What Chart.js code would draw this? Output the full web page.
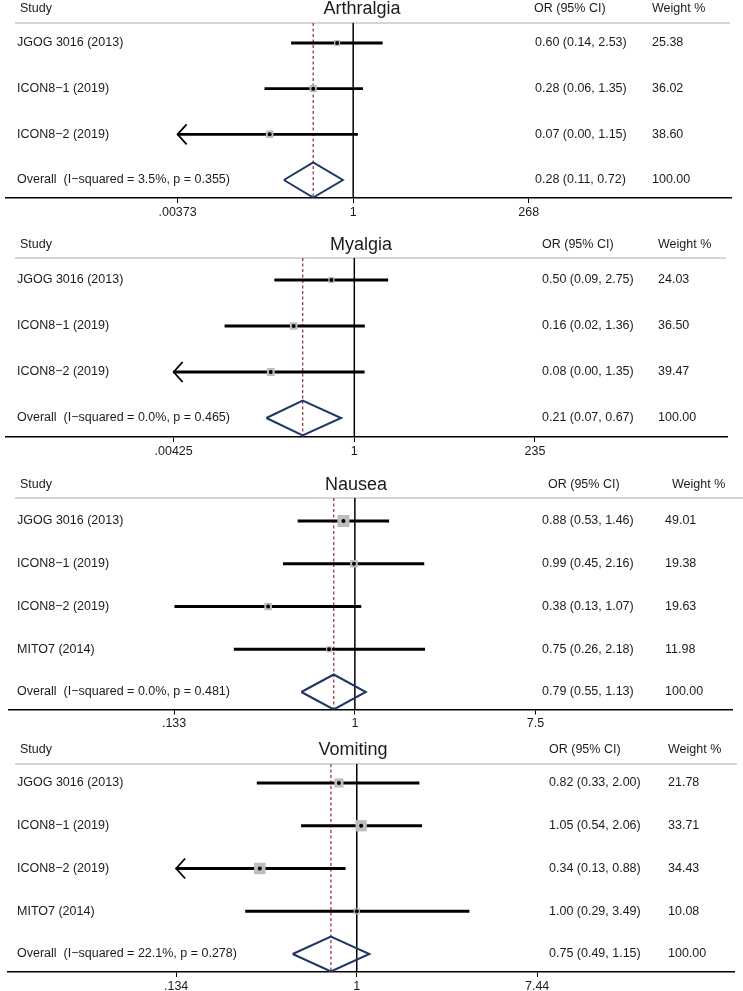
<!DOCTYPE html>
<html>
<head>
<meta charset="utf-8">
<script src="https://cdn.jsdelivr.net/npm/chart.js@4.4.1/dist/chart.umd.min.js"></script>
<style>
  html, body { margin: 0; padding: 0; background: #fff; }
  #wrap { position: relative; width: 743px; height: 991px; overflow: hidden; }
  #wrap canvas { position: absolute; left: 0; }
</style>
</head>
<body>
<div id="wrap"></div>
<script>
// ---- data ----
const studiesA = ['JGOG 3016 (2013)', 'ICON8\u22121 (2019)', 'ICON8\u22122 (2019)'];
const orA = [0.60, 0.28, 0.07];
const loA = [0.14, 0.06, 0.00];
const hiA = [2.53, 1.35, 1.15];
const wtA = [25.38, 36.02, 38.60];
const overallA = [0.28, 0.11, 0.72];
const hetA = 'Overall  (I\u2212squared = 3.5%, p = 0.355)';
const ticksA = [0.00373, 1, 268];
const tickTextA = ['.00373', '1', '268'];

const studiesM = ['JGOG 3016 (2013)', 'ICON8\u22121 (2019)', 'ICON8\u22122 (2019)'];
const orM = [0.50, 0.16, 0.08];
const loM = [0.09, 0.02, 0.00];
const hiM = [2.75, 1.36, 1.35];
const wtM = [24.03, 36.50, 39.47];
const overallM = [0.21, 0.07, 0.67];
const hetM = 'Overall  (I\u2212squared = 0.0%, p = 0.465)';
const ticksM = [0.00425, 1, 235];
const tickTextM = ['.00425', '1', '235'];

const studiesN = ['JGOG 3016 (2013)', 'ICON8\u22121 (2019)', 'ICON8\u22122 (2019)', 'MITO7 (2014)'];
const orN = [0.88, 0.99, 0.38, 0.75];
const loN = [0.53, 0.45, 0.134, 0.26];
const hiN = [1.46, 2.16, 1.07, 2.18];
const wtN = [49.01, 19.38, 19.63, 11.98];
const overallN = [0.79, 0.55, 1.13];
const hetN = 'Overall  (I\u2212squared = 0.0%, p = 0.481)';
const ticksN = [0.133, 1, 7.5];
const tickTextN = ['.133', '1', '7.5'];

const studiesV = ['JGOG 3016 (2013)', 'ICON8\u22121 (2019)', 'ICON8\u22122 (2019)', 'MITO7 (2014)'];
const orV = [0.82, 1.05, 0.34, 1.00];
const loV = [0.33, 0.54, 0.13, 0.29];
const hiV = [2.00, 2.06, 0.88, 3.49];
const wtV = [21.78, 33.71, 34.43, 10.08];
const overallV = [0.75, 0.49, 1.15];
const hetV = 'Overall  (I\u2212squared = 22.1%, p = 0.278)';
const ticksV = [0.134, 1, 7.44];
const tickTextV = ['.134', '1', '7.44'];

const panels = [
  { title: 'Arthralgia', studies: studiesA, or: orA, lo: loA, hi: hiA, wt: wtA, overall: overallA, het: hetA, ticks: ticksA, tickText: tickTextA },
  { title: 'Myalgia', studies: studiesM, or: orM, lo: loM, hi: hiM, wt: wtM, overall: overallM, het: hetM, ticks: ticksM, tickText: tickTextM },
  { title: 'Nausea', studies: studiesN, or: orN, lo: loN, hi: hiN, wt: wtN, overall: overallN, het: hetN, ticks: ticksN, tickText: tickTextN },
  { title: 'Vomiting', studies: studiesV, or: orV, lo: loV, hi: hiV, wt: wtV, overall: overallV, het: hetV, ticks: ticksV, tickText: tickTextV }
];

// ---- layout (pixels in the page) ----
const layouts = [
  { top: 0,   height: 230, headY: 9,   sepY: 23,  sepEnd: 730, firstY: 43,  lastY: 180, axisY: 198,   x1: 352, k: 31.5, right: 731, titleX: 362, orX: 535, orHeadX: 534, wtX: 652, wtHeadX: 652, box: 1.2 },
  { top: 230, height: 240, headY: 245, sepY: 258, sepEnd: 726, firstY: 280, lastY: 418, axisY: 437,   x1: 353, k: 33.2, right: 727, titleX: 361, orX: 542, orHeadX: 542, wtX: 658, wtHeadX: 658, box: 1.25 },
  { top: 470, height: 262, headY: 485, sepY: 498, sepEnd: 743, firstY: 521, lastY: 692, axisY: 709.5, x1: 352, k: 90.3, right: 732, titleX: 356, orX: 542, orHeadX: 548, wtX: 665, wtHeadX: 672, box: 1.72 },
  { top: 732, height: 259, headY: 750, sepY: 764, sepEnd: 737, firstY: 783, lastY: 954, axisY: 972,   x1: 358, k: 91.5, right: 743, titleX: 353, orX: 549, orHeadX: 549, wtX: 668, wtHeadX: 668, box: 1.95 }
];

const FONT = '"Liberation Sans", Arial, Helvetica, sans-serif';
const TEXT = '#1b1b1b';
const AXIS_H = 28;
const LEFT = 3;

function fmt(v) { return v.toFixed(2); }

function makeTextPlugin(p, L) {
  const n = p.studies.length;
  return {
    id: 'forestText',
    beforeDatasetsDraw(chart) {
      const ctx = chart.ctx;
      ctx.save();
      ctx.strokeStyle = '#c9c9c9';
      ctx.lineWidth = 1.5;
      ctx.beginPath();
      ctx.moveTo(15, L.sepY - L.top);
      ctx.lineTo(L.sepEnd, L.sepY - L.top);
      ctx.stroke();
      ctx.restore();
    },
    afterDatasetsDraw(chart) {
      // arrow heads where the CI runs past the axis
      const { ctx, scales: { x, y } } = chart;
      ctx.save();
      ctx.strokeStyle = '#000';
      ctx.lineWidth = 1.8;
      p.lo.forEach((lo, i) => {
        if (lo < p.ticks[0]) {
          const px = x.getPixelForValue(p.ticks[0]);
          const py = y.getPixelForValue(i + 1);
          ctx.beginPath();
          ctx.moveTo(px + 9, py - 10);
          ctx.lineTo(px, py);
          ctx.lineTo(px + 9, py + 10);
          ctx.stroke();
        }
      });
      ctx.restore();
    },
    afterDraw(chart) {
      const { ctx, scales: { y } } = chart;
      const hy = L.headY - L.top;
      ctx.save();
      ctx.fillStyle = TEXT;
      ctx.textBaseline = 'middle';
      ctx.textAlign = 'left';
      ctx.font = '12.5px ' + FONT;
      ctx.fillText('Study', 20, hy);
      ctx.fillText('OR (95% CI)', L.orHeadX, hy);
      ctx.fillText('Weight %', L.wtHeadX, hy);
      ctx.textAlign = 'center';
      ctx.font = '18px ' + FONT;
      ctx.fillText(p.title, L.titleX, hy);
      ctx.textAlign = 'left';
      ctx.font = '12.5px ' + FONT;
      p.studies.forEach((s, i) => {
        const py = y.getPixelForValue(i + 1);
        ctx.fillText(s, 17, py);
        ctx.fillText(fmt(p.or[i]) + ' (' + fmt(p.lo[i]) + ', ' + fmt(p.hi[i]) + ')', L.orX, py);
        ctx.fillText(fmt(p.wt[i]), L.wtX, py);
      });
      const oy = y.getPixelForValue(n + 1);
      ctx.fillText(p.het, 17, oy);
      ctx.fillText(fmt(p.overall[0]) + ' (' + fmt(p.overall[1]) + ', ' + fmt(p.overall[2]) + ')', L.orX, oy);
      ctx.fillText('100.00', L.wtX, oy);
      ctx.restore();
    }
  };
}

const wrap = document.getElementById('wrap');

panels.forEach((p, idx) => {
  const L = layouts[idx];
  const n = p.studies.length;
  const spacing = (L.lastY - L.firstY) / n;
  const yMin = 1 - (L.firstY - L.sepY) / spacing;
  const yMax = (n + 1) + (L.axisY - L.lastY) / spacing;
  const xMin = Math.exp((LEFT - L.x1) / L.k);
  const xMax = Math.exp((L.right - L.x1) / L.k);
  const half = 17.5 / spacing;
  const oRow = n + 1;
  const [ov, ovLo, ovHi] = p.overall;

  const canvas = document.createElement('canvas');
  canvas.width = 743;
  canvas.height = L.height;
  canvas.style.top = L.top + 'px';
  wrap.appendChild(canvas);

  const rows = p.studies.map((s, i) => i + 1);

  new Chart(canvas.getContext('2d'), {
    type: 'bar',
    data: {
      datasets: [
        {
          type: 'scatter',
          order: 0,
          data: rows.map((r, i) => ({ x: p.or[i], y: r })),
          pointStyle: 'circle',
          pointRadius: 2,
          backgroundColor: '#000',
          borderWidth: 0
        },
        {
          type: 'scatter',
          order: 1,
          data: rows.map((r, i) => ({ x: p.or[i], y: r })),
          pointStyle: 'rect',
          pointRadius: p.wt.map(w => L.box * Math.sqrt(w) / Math.SQRT2),
          backgroundColor: '#bdbdbd',
          borderWidth: 0
        },
        {
          type: 'bar',
          order: 2,
          data: rows.map((r, i) => ({ x: [Math.max(p.lo[i], p.ticks[0]), p.hi[i]], y: r })),
          backgroundColor: '#000',
          borderWidth: 0,
          barThickness: 2.2
        },
        {
          type: 'scatter',
          order: 3,
          showLine: true,
          data: [
            { x: ovLo, y: oRow }, { x: ov, y: oRow - half },
            { x: ovHi, y: oRow }, { x: ov, y: oRow + half },
            { x: ovLo, y: oRow }
          ],
          borderColor: '#1f3765',
          borderWidth: 2,
          borderJoinStyle: 'miter',
          pointRadius: 0,
          fill: false,
          tension: 0
        },
        {
          type: 'scatter',
          order: 4,
          showLine: true,
          data: [{ x: ov, y: yMin }, { x: ov, y: yMax }],
          borderColor: '#a0393f',
          borderWidth: 1.3,
          borderDash: [3, 2.5],
          pointRadius: 0
        },
        {
          type: 'scatter',
          order: 5,
          showLine: true,
          data: [{ x: 1, y: yMin }, { x: 1, y: yMax }],
          borderColor: '#000',
          borderWidth: 1.5,
          pointRadius: 0
        }
      ]
    },
    options: {
      indexAxis: 'y',
      responsive: false,
      animation: false,
      events: [],
      layout: {
        padding: {
          left: LEFT,
          right: 743 - L.right,
          top: L.sepY - L.top,
          bottom: L.top + L.height - L.axisY - AXIS_H
        }
      },
      plugins: {
        legend: { display: false },
        tooltip: { enabled: false },
        title: { display: false }
      },
      scales: {
        x: {
          type: 'logarithmic',
          position: 'bottom',
          min: xMin,
          max: xMax,
          beginAtZero: false,
          offset: false,
          afterBuildTicks: scale => { scale.ticks = p.ticks.map(v => ({ value: v })); },
          afterFit: scale => { scale.height = AXIS_H; },
          ticks: {
            autoSkip: false,
            maxRotation: 0,
            padding: 2,
            color: TEXT,
            font: { family: FONT, size: 12.5 },
            callback: (v, i) => p.tickText[i]
          },
          grid: {
            display: true,
            drawOnChartArea: false,
            drawTicks: true,
            tickLength: 5,
            color: '#000',
            lineWidth: 1
          },
          border: { display: true, color: '#000', width: 1.5 }
        },
        y: {
          type: 'linear',
          display: false,
          reverse: true,
          min: yMin,
          max: yMax,
          offset: false,
          grid: { offset: false }
        }
      }
    },
    plugins: [makeTextPlugin(p, L)]
  });
});
</script>
</body>
</html>
